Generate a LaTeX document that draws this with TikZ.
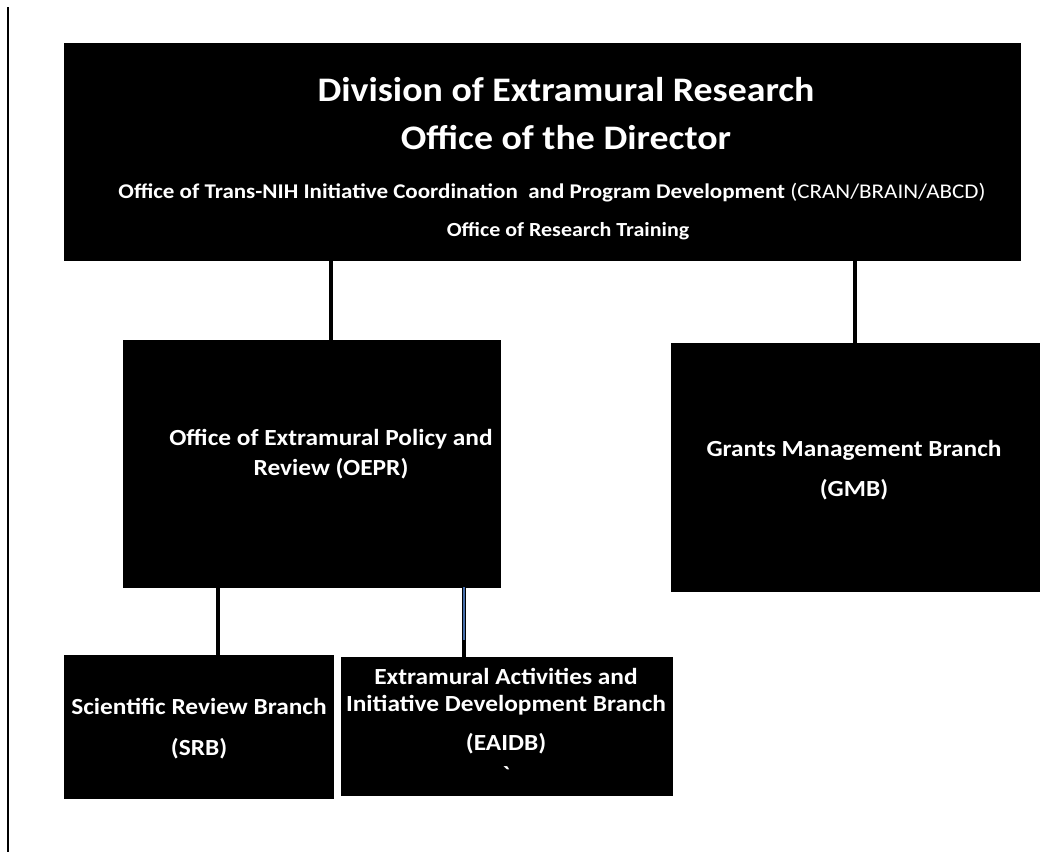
\documentclass[tikz,border=0pt]{standalone}
\usepackage{fontspec}
\setmainfont{Carlito}[FakeStretch=1.1]
\begin{document}
\begin{tikzpicture}[x=0.75pt,y=-0.75pt,
  box/.style={fill=black,draw=black,inner sep=0pt,outer sep=0pt},
  lbl/.style={text=white,font=\bfseries,inner sep=0pt,anchor=base},
  body/.style={lbl,font=\bfseries\fontsize{17.3}{20}\selectfont},
  conn/.style={line width=2.4pt,black}]
\useasboundingbox[fill=white] (0,0) rectangle (1063,858);
\draw[line width=1.4pt] (8,7) coordinate (lt) -- (8,852) coordinate (lb);
% boxes
\node[box,minimum width=956*0.75pt,minimum height=217*0.75pt,anchor=north west] (top) at (64,43) {};
\node[box,minimum width=377*0.75pt,minimum height=247*0.75pt,anchor=north west] (oepr) at (123,340) {};
\node[box,minimum width=368*0.75pt,minimum height=248*0.75pt,anchor=north west] (gmb) at (671,343) {};
\node[box,minimum width=269*0.75pt,minimum height=143*0.75pt,anchor=north west] (srb) at (64,655) {};
\node[box,minimum width=331*0.75pt,minimum height=138*0.75pt,anchor=north west] (eaidb) at (341,657) {};
% connectors
\draw[conn] (top.south -| 331,0) -- (oepr.north -| 331,0);
\draw[conn] (top.south -| 855,0) -- (gmb.north -| 855,0);
\draw[conn] (oepr.south -| 218,0) -- (srb.north -| 218,0);
\coordinate (mid) at (464,640);
\draw[line width=2.4pt,color=black] (mid) -- (eaidb.north -| mid);
\draw[line width=2.4pt,color=black] (oepr.south -| mid) -- (mid);
\draw[line width=0.9pt,color={rgb,255:red,70;green,110;blue,170}] (oepr.south -| mid) -- (mid);
% labels
\node[lbl,font=\bfseries\fontsize{25.8}{30}\selectfont] (t1) at (566,101) {Division of Extramural Research};
\node[lbl,font=\bfseries\fontsize{25.8}{30}\selectfont] (t2) at (566,149) {Office of the Director};
\node[lbl,font=\bfseries\fontsize{15.7}{18}\selectfont] (t3) at (552,198) {Office of Trans-NIH Initiative Coordination\ \ and Program Development \mdseries(CRAN/BRAIN/ABCD)};
\node[lbl,font=\bfseries\fontsize{15}{18}\selectfont] (t4) at (568,236) {Office of Research Training};
\node[body] (o1) at (331,445) {Office of Extramural Policy and};
\node[body] (o2) at (331,475) {Review (OEPR)};
\node[body] (g1) at (854,456) {Grants Management Branch};
\node[body] (g2) at (854,496) {(GMB)};
\node[body] (s1) at (199,714) {Scientific Review Branch};
\node[body] (s2) at (199,755) {(SRB)};
\node[body] (e1) at (506,684) {Extramural Activities and};
\node[body] (e2) at (506,711) {Initiative Development Branch};
\node[body] (e3) at (506,750) {(EAIDB)};
\node[body] (e4) at (506,782) {\textasciigrave};
\end{tikzpicture}
\end{document}
